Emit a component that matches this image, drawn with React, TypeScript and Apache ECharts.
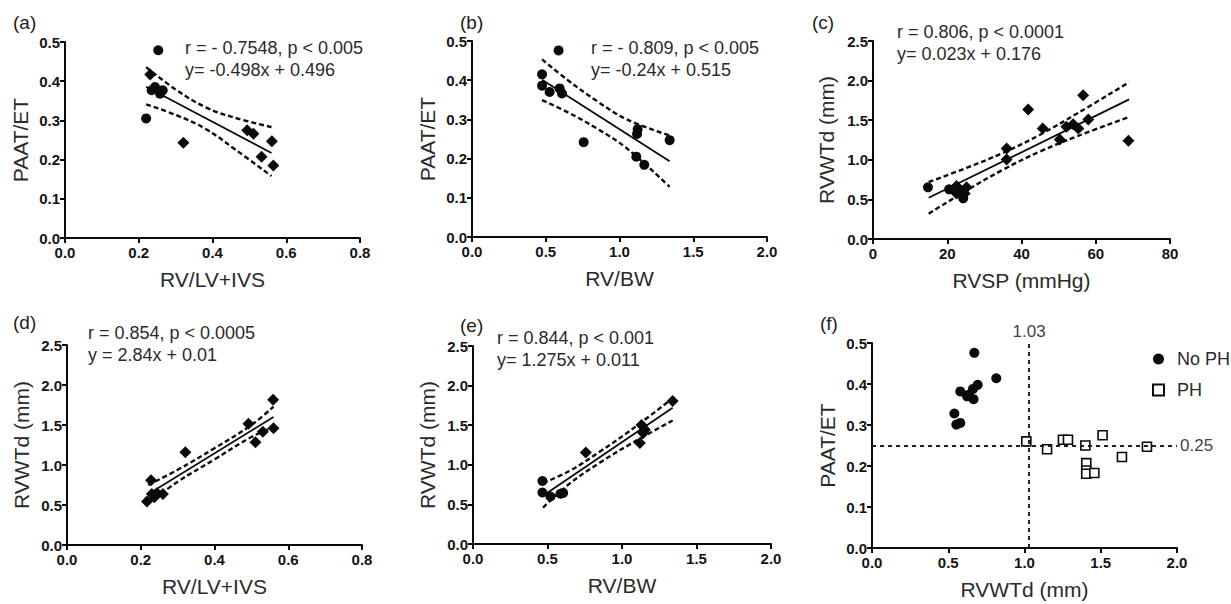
import React, { useEffect, useRef } from "react";
import * as echarts from "echarts";

// ---------- data ----------
// (a) PAAT/ET vs RV/LV+IVS
const aCircles = [[0.253, 0.479], [0.220, 0.305], [0.235, 0.377], [0.244, 0.385], [0.258, 0.368], [0.265, 0.377]];
const aDiamonds = [[0.231, 0.417], [0.321, 0.243], [0.494, 0.275], [0.511, 0.266], [0.533, 0.207], [0.561, 0.247], [0.565, 0.185]];
const aFit = [[0.22, 0.386], [0.56, 0.217]];
const aUpper = [[0.22, 0.436], [0.30, 0.379], [0.38, 0.334], [0.46, 0.307], [0.56, 0.283]];
const aLower = [[0.22, 0.341], [0.30, 0.314], [0.38, 0.279], [0.46, 0.227], [0.56, 0.158]];

// (b) PAAT/ET vs RV/BW
const bCircles = [[0.587, 0.476], [0.475, 0.415], [0.475, 0.386], [0.526, 0.370], [0.594, 0.379], [0.610, 0.366], [0.757, 0.242], [1.123, 0.275], [1.119, 0.263], [1.114, 0.205], [1.168, 0.184], [1.340, 0.247]];
const bFit = [[0.475, 0.401], [1.34, 0.193]];
const bUpper = [[0.475, 0.453], [0.65, 0.400], [0.85, 0.346], [1.05, 0.300], [1.34, 0.259]];
const bLower = [[0.475, 0.349], [0.65, 0.318], [0.85, 0.276], [1.05, 0.226], [1.34, 0.128]];

// (c) RVWTd vs RVSP
const cCircles = [[14.8, 0.652], [20.5, 0.627], [24.3, 0.513]];
const cDiamonds = [[22.5, 0.668], [23.4, 0.618], [24.7, 0.576], [25.2, 0.652], [22.5, 0.576], [36.0, 1.144], [36.0, 1.005], [41.8, 1.636], [45.7, 1.396], [50.3, 1.257], [52.1, 1.416], [53.9, 1.450], [55.3, 1.396], [56.6, 1.816], [58.0, 1.509], [68.8, 1.240]];
const cFit = [[15, 0.521], [69, 1.763]];
const cUpper = [[15, 0.72], [25, 0.895], [35, 1.087], [45, 1.317], [55, 1.585], [69, 1.98]];
const cLower = [[15, 0.32], [25, 0.607], [35, 0.875], [45, 1.105], [55, 1.297], [69, 1.54]];

// (d) RVWTd vs RV/LV+IVS
const dDiamonds = [[0.217, 0.545], [0.228, 0.810], [0.230, 0.637], [0.244, 0.646], [0.260, 0.637], [0.237, 0.596], [0.321, 1.160], [0.492, 1.515], [0.511, 1.285], [0.531, 1.415], [0.559, 1.815], [0.560, 1.458]];
const dFit = [[0.22, 0.635], [0.56, 1.600]];
const dUpper = [[0.22, 0.75], [0.30, 0.94], [0.40, 1.21], [0.50, 1.50], [0.56, 1.73]];
const dLower = [[0.22, 0.52], [0.30, 0.79], [0.40, 1.07], [0.50, 1.35], [0.56, 1.47]];

// (e) RVWTd vs RV/BW
const eCircles = [[0.466, 0.795], [0.466, 0.650], [0.520, 0.600], [0.587, 0.634], [0.605, 0.645]];
const eDiamonds = [[0.757, 1.155], [1.120, 1.274], [1.131, 1.504], [1.154, 1.441], [1.142, 1.400], [1.340, 1.805]];
const eFit = [[0.47, 0.610], [1.34, 1.720]];
const eUpper = [[0.47, 0.77], [0.65, 0.925], [0.85, 1.165], [1.05, 1.425], [1.34, 1.84]];
const eLower = [[0.47, 0.46], [0.65, 0.765], [0.85, 1.025], [1.05, 1.255], [1.34, 1.56]];

// (f) PAAT/ET vs RVWTd
const noPH = [[0.671, 0.476], [0.815, 0.414], [0.693, 0.398], [0.579, 0.382], [0.634, 0.374], [0.662, 0.388], [0.666, 0.363], [0.623, 0.370], [0.540, 0.328], [0.553, 0.301], [0.579, 0.305]];
const PH = [[1.012, 0.260], [1.148, 0.241], [1.252, 0.264], [1.285, 0.264], [1.399, 0.250], [1.405, 0.207], [1.405, 0.189], [1.405, 0.181], [1.458, 0.183], [1.512, 0.275], [1.639, 0.222], [1.803, 0.247]];
const cutX = 1.03;
const cutY = 0.25;

const panelLabels = ["(a)", "(b)", "(c)", "(d)", "(e)", "(f)"];
const statTexts = [
  ["r = - 0.7548, p < 0.005", "y= -0.498x + 0.496"],
  ["r = - 0.809, p < 0.005", "y= -0.24x + 0.515"],
  ["r = 0.806, p < 0.0001", "y= 0.023x + 0.176"],
  ["r = 0.854, p < 0.0005", "y = 2.84x + 0.01"],
  ["r = 0.844, p < 0.001", "y= 1.275x + 0.011"],
];
const xNames = ["RV/LV+IVS", "RV/BW", "RVSP (mmHg)", "RV/LV+IVS", "RV/BW", "RVWTd (mm)"];
const yNames = ["PAAT/ET", "PAAT/ET", "RVWTd (mm)", "RVWTd (mm)", "RVWTd (mm)", "PAAT/ET"];
const xRanges = [[0, 0.8, 0.2], [0, 2, 0.5], [0, 80, 20], [0, 0.8, 0.2], [0, 2, 0.5], [0, 2, 0.5]];
const yRanges = [[0, 0.5, 0.1], [0, 0.5, 0.1], [0, 2.5, 0.5], [0, 2.5, 0.5], [0, 2.5, 0.5], [0, 0.5, 0.1]];

// ---------- layout ----------
const FONT = "'Liberation Sans', Arial, Helvetica, sans-serif";
const grids = [
  { left: 65, top: 42, width: 295, height: 196 },
  { left: 472, top: 41, width: 295, height: 196 },
  { left: 873, top: 41, width: 297, height: 198 },
  { left: 67, top: 345, width: 295, height: 200 },
  { left: 473, top: 346, width: 298, height: 198 },
  { left: 872, top: 343, width: 305, height: 205 },
];
const yNameGaps = [34, 34, 36, 35, 35, 34];
const labelPos = [[13, 22], [460, 22], [812, 22], [13, 322], [460, 325], [820, 323]];
const statPos = [[185, 48], [591, 48], [897, 32], [88, 333], [497, 338]];

const INK = "#0a0a0a";

function makeAxis(i: number, isY: boolean) {
  const [min, max, interval] = isY ? yRanges[i] : xRanges[i];
  const intLabels = !isY && i === 2;
  return {
    type: "value",
    gridIndex: i,
    min,
    max,
    interval,
    name: isY ? yNames[i] : xNames[i],
    nameLocation: "middle",
    nameGap: isY ? yNameGaps[i] : 31,
    nameTextStyle: { fontSize: 21, color: "#2a2a2a", fontFamily: FONT },
    axisLine: { show: true, lineStyle: { color: INK, width: 2 } },
    axisTick: { show: true, inside: false, length: 5, lineStyle: { color: INK, width: 2 } },
    axisLabel: {
      fontSize: 15,
      fontWeight: "bold",
      color: "#151515",
      fontFamily: FONT,
      margin: isY ? 5 : 7,
      formatter: (v: number) => (intLabels ? String(Math.round(v)) : v.toFixed(1)),
    },
    splitLine: { show: false },
  };
}

function fitSeries(i: number, data: number[][]) {
  return {
    type: "line",
    xAxisIndex: i,
    yAxisIndex: i,
    data,
    showSymbol: false,
    silent: true,
    lineStyle: { color: INK, width: 1.8 },
    z: 2,
  };
}
function bandSeries(i: number, data: number[][]) {
  return {
    type: "line",
    xAxisIndex: i,
    yAxisIndex: i,
    data,
    smooth: 0.4,
    showSymbol: false,
    silent: true,
    lineStyle: { color: INK, width: 2.4, type: [5, 3] },
    z: 2,
  };
}
function pts(i: number, data: number[][], symbol: string, name?: string) {
  return {
    type: "scatter",
    name,
    xAxisIndex: i,
    yAxisIndex: i,
    data,
    symbol,
    symbolSize: symbol === "diamond" ? 12 : 10,
    itemStyle: { color: INK, opacity: 1 },
    z: 3,
  };
}

export default function App() {
  const ref = useRef<HTMLDivElement>(null);
  useEffect(() => {
    if (!ref.current) return;
    const chart = echarts.init(ref.current, undefined, { renderer: "svg" });

    const series: any[] = [
      pts(0, aCircles, "circle"), pts(0, aDiamonds, "diamond"),
      fitSeries(0, aFit), bandSeries(0, aUpper), bandSeries(0, aLower),
      pts(1, bCircles, "circle"),
      fitSeries(1, bFit), bandSeries(1, bUpper), bandSeries(1, bLower),
      pts(2, cCircles, "circle"), pts(2, cDiamonds, "diamond"),
      fitSeries(2, cFit), bandSeries(2, cUpper), bandSeries(2, cLower),
      pts(3, dDiamonds, "diamond"),
      fitSeries(3, dFit), bandSeries(3, dUpper), bandSeries(3, dLower),
      pts(4, eCircles, "circle"), pts(4, eDiamonds, "diamond"),
      fitSeries(4, eFit), bandSeries(4, eUpper), bandSeries(4, eLower),
      pts(5, noPH, "circle", "No PH"),
      {
        type: "scatter",
        name: "PH",
        xAxisIndex: 5,
        yAxisIndex: 5,
        data: PH,
        symbol: "rect",
        symbolSize: 9,
        itemStyle: { color: "#fff", borderColor: INK, borderWidth: 1.6, opacity: 1 },
        z: 3,
        markLine: {
          silent: true,
          symbol: "none",
          lineStyle: { color: "#222", width: 2, type: [4, 4] },
          label: { color: "#444", fontSize: 17, fontFamily: FONT, distance: 3 },
          data: [
            { xAxis: cutX, label: { formatter: String(cutX), position: "end" } },
            { yAxis: cutY, label: { formatter: String(cutY), position: "end" } },
          ],
        },
      },
    ];

    const graphic: any[] = [];
    panelLabels.forEach((t, i) => {
      graphic.push({
        type: "text",
        x: labelPos[i][0],
        y: labelPos[i][1],
        style: { text: t, fontSize: 19, fontFamily: FONT, fill: "#222", verticalAlign: "middle", align: "left" },
      });
    });
    statTexts.forEach((lines, i) => {
      lines.forEach((t, k) => {
        graphic.push({
          type: "text",
          x: statPos[i][0],
          y: statPos[i][1] + k * 22,
          style: { text: t, fontSize: 18, fontFamily: FONT, fill: "#2a2a2a", verticalAlign: "middle", align: "left" },
        });
      });
    });

    chart.setOption({
      animation: false,
      backgroundColor: "#fff",
      grid: grids.map((g) => ({ ...g, containLabel: false })),
      xAxis: grids.map((_, i) => makeAxis(i, false)),
      yAxis: grids.map((_, i) => makeAxis(i, true)),
      legend: {
        data: ["No PH", "PH"],
        orient: "vertical",
        left: 1147,
        top: 345,
        itemWidth: 11,
        itemHeight: 11,
        itemGap: 13,
        selectedMode: false,
        textStyle: { fontSize: 18, color: "#2a2a2a", fontFamily: FONT, padding: [0, 0, 0, 8] },
      },
      graphic,
      series,
    });
    return () => chart.dispose();
  }, []);
  return (
    <div
      ref={ref}
      style={{ position: "absolute", left: 0, top: 0, width: "1231px", height: "604px", background: "#fff" }}
    />
  );
}
